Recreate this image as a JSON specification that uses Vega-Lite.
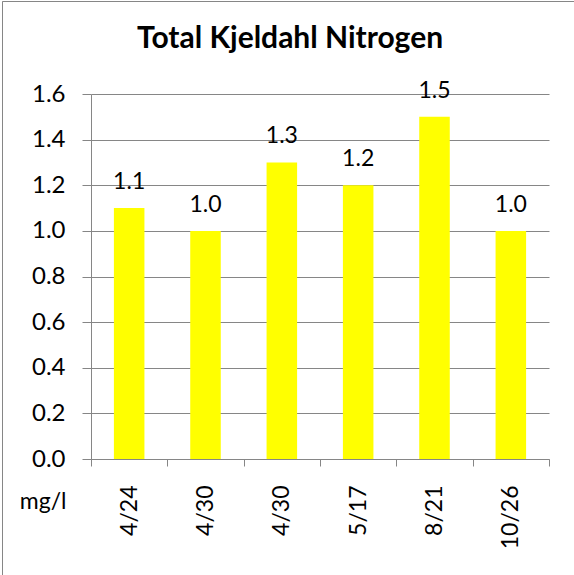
{
  "$schema": "https://vega.github.io/schema/vega-lite/v6.json",
  "autosize": "none",
  "width": 580,
  "height": 580,
  "padding": {"left": 2, "top": 1, "right": 0, "bottom": 0},
  "background": "white",
  "title": {
    "text": "Total Kjeldahl Nitrogen",
    "font": "Lato",
    "fontSize": 30,
    "fontWeight": "bold",
    "color": "black",
    "anchor": "start",
    "frame": "group",
    "baseline": "alphabetic",
    "offset": -49,
    "dx": 135,
    "dy": 28
  },
  "data": {
    "values": [
      {"date": "4/24", "tkn": 1.1},
      {"date": "4/30", "tkn": 1.0},
      {"date": "4/30\u200b", "tkn": 1.3},
      {"date": "5/17", "tkn": 1.2},
      {"date": "8/21", "tkn": 1.5},
      {"date": "10/26", "tkn": 1.0}
    ]
  },
  "encoding": {
    "x": {
      "field": "date",
      "type": "nominal",
      "sort": null,
      "scale": {"range": [89, 547], "paddingInner": 0, "paddingOuter": 0},
      "axis": {
        "orient": "bottom",
        "offset": -122,
        "title": null,
        "tickBand": "extent",
        "labelAngle": -90,
        "labelAlign": "right",
        "labelBaseline": "middle",
        "labelPadding": 19,
        "tickSize": 7,
        "domainColor": "#868686",
        "tickColor": "#868686",
        "labelFont": "Lato",
        "labelFontSize": 23,
        "labelColor": "black",
        "grid": false
      }
    },
    "y": {
      "field": "tkn",
      "type": "quantitative",
      "scale": {"domain": [0, 1.6], "range": [458, 93], "nice": false},
      "axis": {
        "orient": "left",
        "offset": -89,
        "values": [0, 0.2, 0.4, 0.6, 0.8, 1.0, 1.2, 1.4, 1.6],
        "format": ".1f",
        "tickSize": 9,
        "labelPadding": 17,
        "grid": true,
        "gridColor": "#868686",
        "domainColor": "#868686",
        "tickColor": "#868686",
        "labelFont": "Lato",
        "labelFontSize": 24,
        "labelColor": "black",
        "title": "mg/l",
        "titleAngle": 0,
        "titleAlign": "right",
        "titleBaseline": "alphabetic",
        "titleX": -25,
        "titleY": 507,
        "titleFont": "Lato",
        "titleFontSize": 23,
        "titleFontWeight": "normal",
        "titleColor": "black"
      }
    }
  },
  "layer": [
    {"mark": {"type": "bar", "color": "#FFFF00", "width": {"band": 0.4}}},
    {
      "mark": {"type": "text", "dy": -19, "baseline": "alphabetic", "font": "Lato", "fontSize": 23, "color": "black"},
      "encoding": {"text": {"field": "tkn", "type": "quantitative", "format": ".1f"}}
    }
  ],
  "config": {"view": {"stroke": "#868686", "strokeWidth": 1, "strokeDash": [1160, 580, 580, 0], "strokeDashOffset": 580}}
}
